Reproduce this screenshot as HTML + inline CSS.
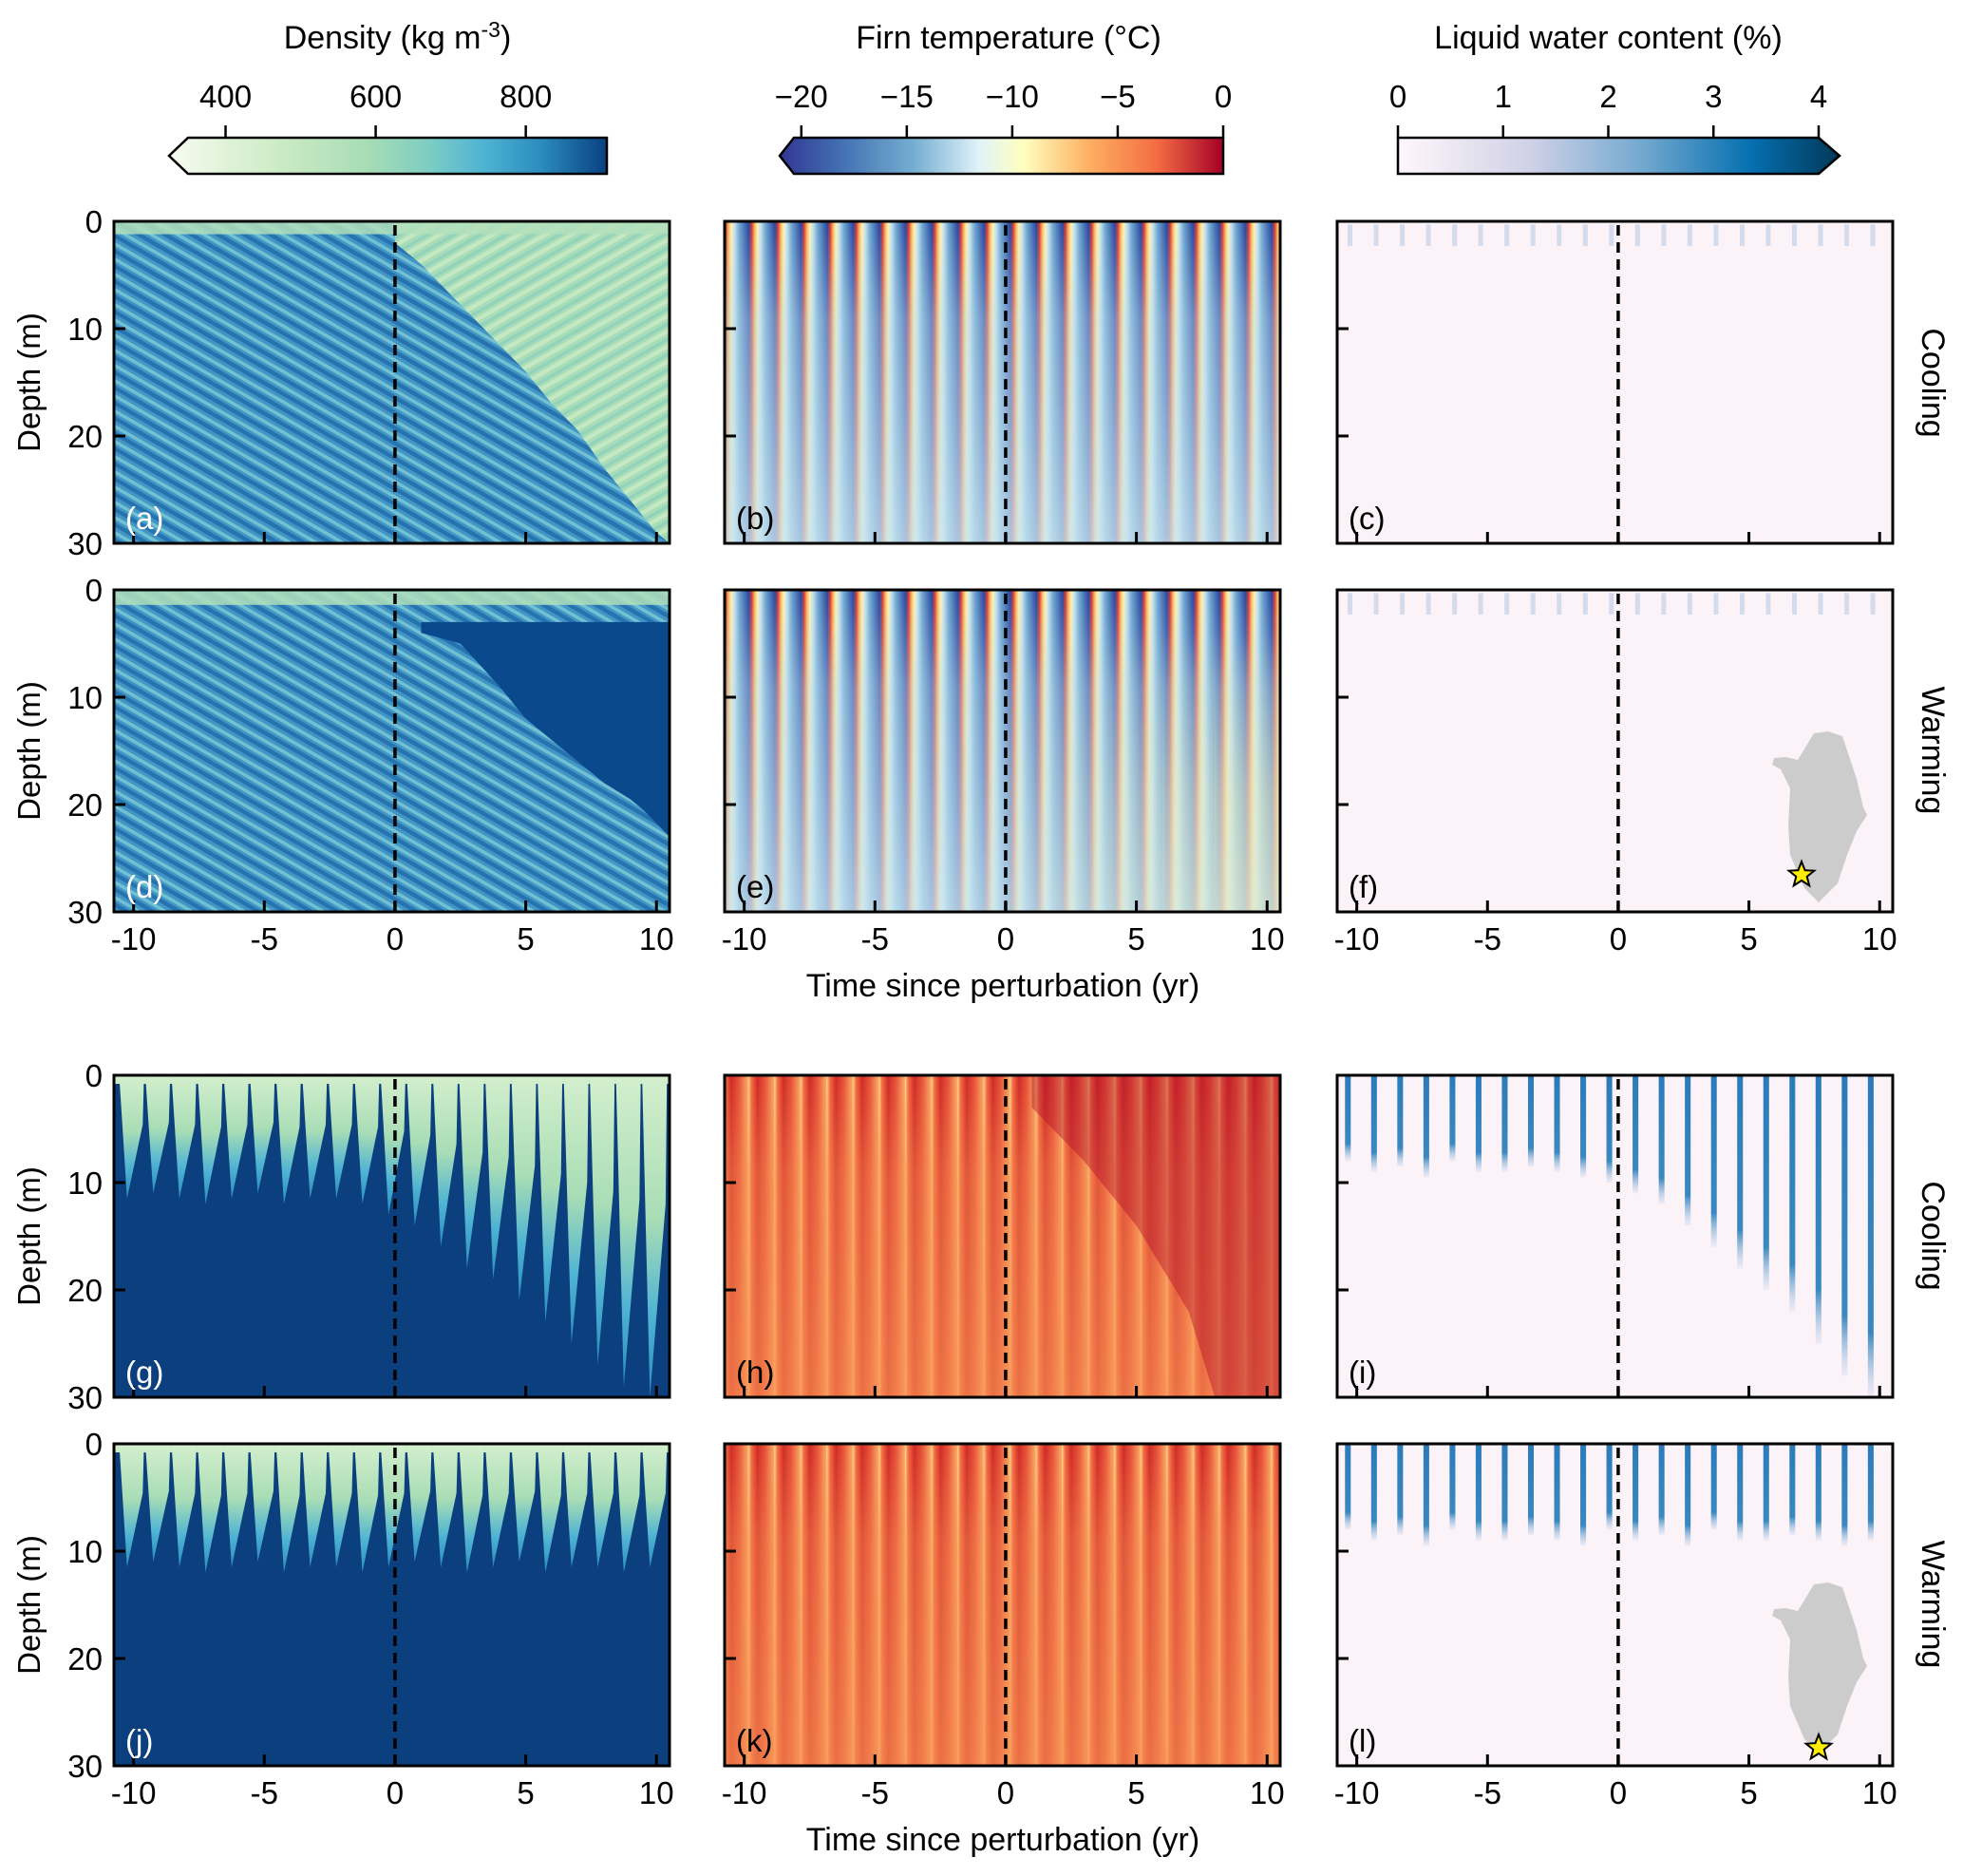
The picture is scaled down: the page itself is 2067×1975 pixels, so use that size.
<!DOCTYPE html>
<html><head><meta charset="utf-8"><style>
html,body{margin:0;padding:0;background:#fff;}
svg{display:block;font-family:"Liberation Sans",Arial,sans-serif;}
</style></head><body>
<svg id="fig" width="2067" height="1975" viewBox="0 0 2067 1975" xmlns="http://www.w3.org/2000/svg">
<defs>
<linearGradient id="cbDens" x1="0" x2="1" y1="0" y2="0">
<stop offset="0" stop-color="#f7fcf0"/><stop offset="0.25" stop-color="#ccebc5"/><stop offset="0.45" stop-color="#a8ddb5"/><stop offset="0.6" stop-color="#7bccc4"/><stop offset="0.72" stop-color="#4eb3d3"/><stop offset="0.85" stop-color="#2b8cbe"/><stop offset="1" stop-color="#084081"/></linearGradient>
<linearGradient id="cbTemp" x1="0" x2="1" y1="0" y2="0">
<stop offset="0" stop-color="#313695"/><stop offset="0.15" stop-color="#4575b4"/><stop offset="0.3" stop-color="#74add1"/><stop offset="0.45" stop-color="#e0f3f8"/><stop offset="0.55" stop-color="#ffffbf"/><stop offset="0.7" stop-color="#fdae61"/><stop offset="0.85" stop-color="#f46d43"/><stop offset="1" stop-color="#a50026"/></linearGradient>
<linearGradient id="cbLwc" x1="0" x2="1" y1="0" y2="0">
<stop offset="0" stop-color="#fff7fb"/><stop offset="0.3" stop-color="#d0d1e6"/><stop offset="0.55" stop-color="#74a9cf"/><stop offset="0.8" stop-color="#0570b0"/><stop offset="1" stop-color="#023858"/></linearGradient>
<linearGradient id="tStripe" x1="0" x2="1" y1="0" y2="0">
<stop offset="0" stop-color="#3a4fa0"/><stop offset="0.08" stop-color="#d73027"/><stop offset="0.2" stop-color="#fdb863"/><stop offset="0.3" stop-color="#fff2b0"/><stop offset="0.42" stop-color="#c6e3ee"/><stop offset="0.6" stop-color="#6fa6d0"/><stop offset="0.85" stop-color="#3b63ad"/><stop offset="1" stop-color="#313695"/></linearGradient>
<linearGradient id="tFade" x1="0" x2="0" y1="0" y2="1">
<stop offset="0" stop-color="#bcdcec" stop-opacity="0"/><stop offset="0.3" stop-color="#bcdcec" stop-opacity="0.45"/><stop offset="1" stop-color="#c8e4ef" stop-opacity="0.8"/></linearGradient>
<linearGradient id="hStripe" x1="0" x2="1" y1="0" y2="0">
<stop offset="0" stop-color="#fee090"/><stop offset="0.12" stop-color="#f46d43"/><stop offset="0.35" stop-color="#cf2a27"/><stop offset="0.65" stop-color="#e8553a"/><stop offset="1" stop-color="#fbb36b"/></linearGradient>
<linearGradient id="hFade" x1="0" x2="0" y1="0" y2="1">
<stop offset="0" stop-color="#f58a4f" stop-opacity="0"/><stop offset="0.3" stop-color="#f58a4f" stop-opacity="0.45"/><stop offset="1" stop-color="#f68d52" stop-opacity="0.7"/></linearGradient>
<linearGradient id="yFade" x1="0" x2="0" y1="0" y2="1">
<stop offset="0" stop-color="#fff3a0" stop-opacity="0"/><stop offset="0.5" stop-color="#fff3a0" stop-opacity="1"/><stop offset="1" stop-color="#fff3a0" stop-opacity="1"/></linearGradient>
<linearGradient id="gSpike" x1="0" x2="0" y1="0" y2="1">
<stop offset="0" stop-color="#d4efcd"/><stop offset="0.45" stop-color="#a8ddb5"/><stop offset="0.75" stop-color="#4eb3d3"/><stop offset="1" stop-color="#2b8cbe"/></linearGradient>
<linearGradient id="iSpike" x1="0" x2="0" y1="0" y2="1">
<stop offset="0" stop-color="#2b7bb9"/><stop offset="0.8" stop-color="#3a88c0"/><stop offset="1" stop-color="#c9d6ea" stop-opacity="0.3"/></linearGradient>
<pattern id="densTex" width="28" height="16" patternUnits="userSpaceOnUse" patternTransform="skewY(30)">
<rect width="28" height="16" fill="#4196c5"/><rect y="0" width="28" height="5" fill="#2673b0"/><rect y="9" width="28" height="4" fill="#72c0d2"/></pattern>
<pattern id="densTexL" width="28" height="16" patternUnits="userSpaceOnUse" patternTransform="skewY(-30)">
<rect width="28" height="16" fill="#a9ddb8"/><rect y="0" width="28" height="5" fill="#c3e8c2"/><rect y="9" width="28" height="4" fill="#93d2bb"/></pattern>
</defs>
<g id="root"></g>
</svg>
<script>
// ---- data arrays ----
const years = [-10,-9,-8,-7,-6,-5,-4,-3,-2,-1,0,1,2,3,4,5,6,7,8,9,10];
const coolBoundaryYears = [0,1,2,3,4,5,6,7,8,9,10,10.5];
const coolBoundaryDepth = [2,4,6.5,9,11.5,14,17,19.5,23,26,29,30];
const warmDarkYears = [2.5,4,5,6,7,8,9,9.5,10.5];
const warmDarkDepth = [5,9,12,14,16,18,19.5,20.5,23];
const spikeDepthG = [11.5,11,11.5,12,11.5,11,12,11.5,11.5,12,13,14,16,18,19,21,23,25,27,29,30];
const spikeDepthJ = [11.5,11,11.5,12,11.5,11,12,11.5,11.5,12,11.5,11,11.5,12,11.5,11,12,11.5,11.5,12,11.5];
const hRedYears = [1,3,5,7,8,9,10.5];
const hRedDepth = [3,8,14,22,30,30,30];
const eWarmYears = [2,4,6,8,10.5];
const eWarmAlpha = [0.05,0.1,0.15,0.22,0.3];
const lwcDepthI = [8,9,8.5,9.5,8,9,9,8.5,9,9.5,10,11,12,14,16,18,20,22,25,28,30];
const lwcDepthL = [8,9,8.5,9.5,8,9,9,8.5,9,9.5,8,9,8.5,9.5,8,9,9,8.5,9,9.5,9];
const xTicks = [-10,-5,0,5,10];
const yTicks = [0,10,20,30];
const densTicks = [400,600,800];
const tempTicks = [-20,-15,-10,-5,0];
const lwcTicks = [0,1,2,3,4];

const NS="http://www.w3.org/2000/svg";
const root=document.getElementById('root');
function mk(tag,attrs,parent){const e=document.createElementNS(NS,tag);for(const k in attrs)e.setAttribute(k,attrs[k]);(parent||root).appendChild(e);return e;}
const colX=[120,763,1408], rowY=[233,621,1132,1520], W=585, H=339;
const TMIN=-10.75, TMAX=10.5;
const FS=33;
function sx(x0,t){return x0+(t-TMIN)/(TMAX-TMIN)*W;}
function sy(y0,d){return y0+d/30*H;}

function panel(ci,ri,label,labelWhite,kind,showX){
  const x0=colX[ci],y0=rowY[ri];
  const g=mk('g',{});
  
  
  const cid='clip'+label;
  const cp=mk('clipPath',{id:cid},g);mk('rect',{x:x0,y:y0,width:W,height:H},cp);
  const body=mk('g',{'clip-path':'url(#'+cid+')'},g);
  kind(body,x0,y0);
  const dl=mk('line',{x1:sx(x0,0),x2:sx(x0,0),y1:y0+4,y2:y0+H,stroke:'#000','stroke-width':3.5,'stroke-dasharray':'11,7'},g);
  
  
  mk('rect',{x:x0,y:y0,width:W,height:H,fill:'none',stroke:'#000','stroke-width':3},g);
  xTicks.forEach(t=>{const X=sx(x0,t);mk('line',{x1:X,x2:X,y1:y0+H,y2:y0+H-12,stroke:'#000','stroke-width':3},g);
    if(showX){const tx=mk('text',{x:X,y:y0+H+40,'font-size':FS,'text-anchor':'middle'},g);tx.textContent=String(t);}});
  yTicks.forEach(d=>{const Y=sy(y0,d);mk('line',{x1:x0,x2:x0+12,y1:Y,y2:Y,stroke:'#000','stroke-width':3},g);
    if(ci===0){const tx=mk('text',{x:x0-12,y:Y+12,'font-size':FS,'text-anchor':'end'},g);tx.textContent=String(d);}});
  const lt=mk('text',{x:x0+12,y:y0+H-15,'font-size':FS,fill:labelWhite?'#fff':'#000'},g);
  lt.textContent='('+label+')';
  
  
  if(ci===0){const yt=mk('text',{transform:`translate(${42},${y0+H/2}) rotate(-90)`,'font-size':FS,'text-anchor':'middle'},g);yt.textContent='Depth (m)';
    
    }
  return g;
}

function densCool(b,x0,y0){
  mk('rect',{x:x0,y:y0,width:W,height:H,fill:'url(#densTex)'},b);
  let pts=[[sx(x0,coolBoundaryYears[0]),sy(y0,0)]];
  coolBoundaryYears.forEach((t,i)=>pts.push([sx(x0,t),sy(y0,coolBoundaryDepth[i])]));
  pts.push([sx(x0,TMAX),sy(y0,0)]);
  mk('polygon',{points:pts.map(p=>p.join(',')).join(' '),fill:'url(#densTexL)'},b);
  mk('rect',{x:x0,y:y0,width:W,height:sy(y0,1.2)-y0,fill:'#b3e0bb',opacity:0.85},b);
}
function densWarm(b,x0,y0){
  mk('rect',{x:x0,y:y0,width:W,height:H,fill:'url(#densTex)'},b);
  mk('rect',{x:x0,y:y0,width:W,height:sy(y0,1.4)-y0,fill:'#b3e0bb',opacity:0.85},b);
  let pts=[[sx(x0,1),sy(y0,3)],[sx(x0,TMAX),sy(y0,3)]];
  for(let i=warmDarkYears.length-1;i>=0;i--)pts.push([sx(x0,warmDarkYears[i]),sy(y0,warmDarkDepth[i])]);
  pts.push([sx(x0,1),sy(y0,4)]);
  mk('polygon',{points:pts.map(p=>p.join(',')).join(' '),fill:'#0a4a8c'},b);
}
function densSpikes(depths){return function(b,x0,y0){
  mk('rect',{x:x0,y:y0,width:W,height:H,fill:'#0b3f7e'},b);
  mk('rect',{x:x0,y:y0,width:W,height:sy(y0,0.8)-y0,fill:'#cdebc6'},b);
  depths.forEach((D,i)=>{const t=years[i]-0.55;
    const p=[[sx(x0,t),sy(y0,0)],[sx(x0,t+0.95),sy(y0,0)],[sx(x0,t+0.9),sy(y0,D*0.4)],[sx(x0,t+0.3),sy(y0,D)],[sx(x0,t+0.15),sy(y0,D*0.5)]];
    const s=mk('polygon',{points:p.map(q=>q.join(',')).join(' '),fill:'url(#gSpike)'},b);
    
    
  });
};}
function tempPanel(warm){return function(b,x0,y0){
  mk('rect',{x:x0,y:y0,width:W,height:H,fill:'#4575b4'},b);
  for(let t=-11;t<=10;t++){mk('rect',{x:sx(x0,t+0.2),y:y0,width:W/(TMAX-TMIN)+0.5,height:H,fill:'url(#tStripe)'},b);}
  mk('rect',{x:x0,y:y0,width:W,height:H,fill:'url(#tFade)'},b);
  if(warm){eWarmYears.forEach((t,i)=>{const prev=i?eWarmYears[i-1]:0;
    mk('rect',{x:sx(x0,prev),y:sy(y0,4),width:sx(x0,t)-sx(x0,prev)+0.5,height:H,fill:'url(#yFade)',opacity:eWarmAlpha[i]},b);});}
};}
function hotPanel(red){return function(b,x0,y0){
  mk('rect',{x:x0,y:y0,width:W,height:H,fill:'#f4874f'},b);
  for(let t=-11;t<=10;t++){mk('rect',{x:sx(x0,t+0.15),y:y0,width:W/(TMAX-TMIN)+0.5,height:H,fill:'url(#hStripe)'},b);}
  mk('rect',{x:x0,y:y0,width:W,height:H,fill:'url(#hFade)'},b);
  if(red){let p=[[sx(x0,hRedYears[0]),sy(y0,0)]];
    hRedYears.forEach((t,i)=>p.push([sx(x0,t),sy(y0,hRedDepth[i])]));
    p.push([sx(x0,TMAX),sy(y0,30)],[sx(x0,TMAX),sy(y0,0)]);
    mk('polygon',{points:p.map(q=>q.join(',')).join(' '),fill:'#b4122a',opacity:0.45},b);}
};}
function lwcPanel(depths,strong){return function(b,x0,y0){
  mk('rect',{x:x0,y:y0,width:W,height:H,fill:'#fcf3f9'},b);
  if(!strong){years.forEach(t=>{mk('rect',{x:sx(x0,t-0.35),y:sy(y0,0.3),width:5,height:sy(y0,2)-sy(y0,0),fill:'#d3dbec'},b);});return;}
  depths.forEach((D,i)=>{const t=years[i]-0.45;
    const s=mk('rect',{x:sx(x0,t),y:y0,width:sx(x0,t+0.22)-sx(x0,t),height:sy(y0,D)-y0,fill:'url(#iSpike)'},b);
    
    });
};}

panel(0,0,'a',true,densCool,false);
panel(1,0,'b',false,tempPanel(false),false);
panel(2,0,'c',false,lwcPanel(null,false),false);
panel(0,1,'d',true,densWarm,true);
panel(1,1,'e',false,tempPanel(true),true);
panel(2,1,'f',false,lwcPanel(null,false),true);
panel(0,2,'g',true,densSpikes(spikeDepthG),false);
panel(1,2,'h',false,hotPanel(true),false);
panel(2,2,'i',false,lwcPanel(lwcDepthI,true),false);
panel(0,3,'j',true,densSpikes(spikeDepthJ),true);
panel(1,3,'k',false,hotPanel(false),true);
panel(2,3,'l',false,lwcPanel(lwcDepthL,true),true);

[1038,1937].forEach(y=>{const t=mk('text',{x:1056,y:y+11,'font-size':34,'text-anchor':'middle'});t.textContent='Time since perturbation (yr)';
  
  });
[['Cooling',403],['Warming',790],['Cooling',1301],['Warming',1689]].forEach(([s,y])=>{
  const t=mk('text',{transform:`translate(2024,${y}) rotate(90)`,'font-size':34,'text-anchor':'middle'});t.textContent=s;
  
  });

const GL=[[28,32],[45,4],[60,2],[75,7],[80,22],[90,52],[97,82],[101,90],[90,107],[80,132],[70,162],[50,182],[35,167],[20,132],[18,102],[20,62],[10,42],[1,37],[3,30],[15,29]];
function gl(x,y,sX,sY){
  const g=mk('polygon',{points:GL.map(p=>(x+p[0])+','+(y+p[1])).join(' '),fill:'#cccccc'});
  
  
  let s=[];for(let i=0;i<10;i++){const r=i%2?6:14,a=-Math.PI/2+i*Math.PI/5;s.push((sX+r*Math.cos(a))+','+(sY+r*Math.sin(a)));}
  const st=mk('polygon',{points:s.join(' '),fill:'#ffee00',stroke:'#000','stroke-width':2});
  
  
}
gl(1865,768,1897,921);
gl(1865,1664,1915,1840);

function cbar(x0,x1,tip,tipRight,vmin,vmax,ticks,title,grad,fmt,name){
  const g=mk('g',{});
  
  
  const y=145,h=38;
  let p=[[tip,y+h/2],[x0,y],[x1,y],[x1,y+h],[x0,y+h]];
  if(tipRight!==null)p=[[tip,y+h/2],[x0,y],[x1,y],[tipRight,y+h/2],[x1,y+h],[x0,y+h]];
  mk('polygon',{points:p.map(q=>q.join(',')).join(' '),fill:'url(#'+grad+')',stroke:'#000','stroke-width':2.5},g);
  const sc=v=>x0+(v-vmin)/(vmax-vmin)*(x1-x0);
  ticks.forEach(v=>{const X=sc(v);mk('line',{x1:X,x2:X,y1:y,y2:y-13,stroke:'#000','stroke-width':2.5},g);
    const t=mk('text',{x:X,y:113,'font-size':FS,'text-anchor':'middle'},g);t.textContent=fmt(v);});
  const tt=mk('text',{x:(x0+x1)/2,y:51,'font-size':34,'text-anchor':'middle'},g);tt.innerHTML=title;
}
cbar(198,639,178,null,350,908,densTicks,'Density (kg m<tspan dy="-12" font-size="23">-3</tspan><tspan dy="12">)</tspan>','cbDens',v=>String(v),'density-colorbar');
cbar(836,1288,821,null,-20.35,0,tempTicks,'Firn temperature (°C)','cbTemp',v=>v<0?'\u2212'+Math.abs(v):String(v),'temperature-colorbar');
cbar(1472,1915,1472,1937,0,4,lwcTicks,'Liquid water content (%)','cbLwc',v=>String(v),'lwc-colorbar');
</script>
</body></html>
